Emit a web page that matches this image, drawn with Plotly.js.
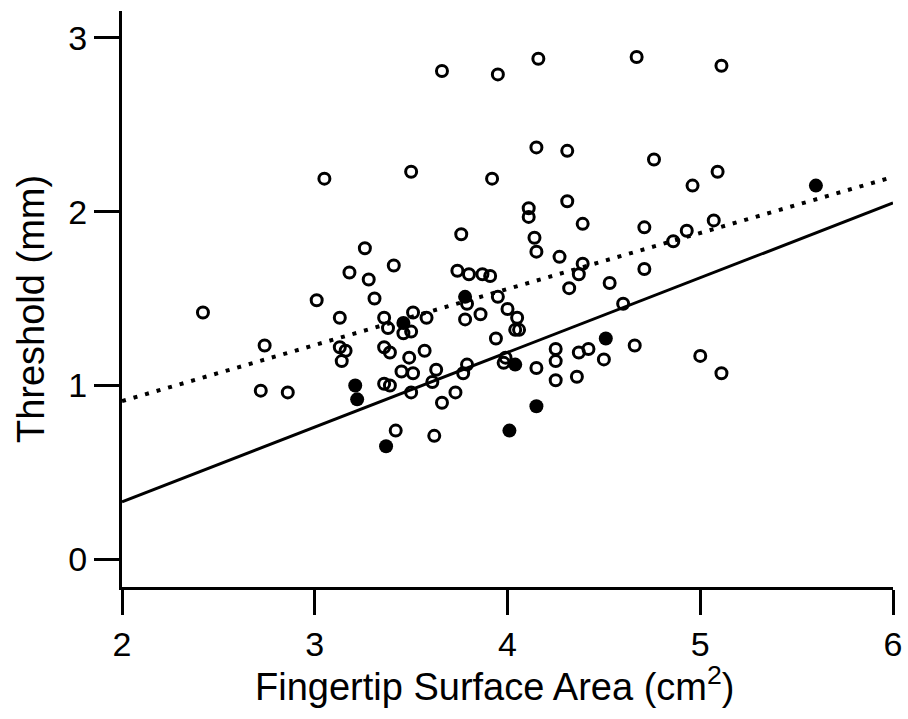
<!DOCTYPE html>
<html>
<head>
<meta charset="utf-8">
<script src="https://cdn.plot.ly/plotly-3.0.1.min.js"></script>
<style>html,body{margin:0;padding:0;background:#fff;}#chart{width:908px;height:719px;}</style>
</head>
<body>
<div id="chart"></div>
<script>
// Open circles: fingertip surface area (cm^2) and threshold (mm)
const openX = [2.42,2.74,2.72,2.86,3.05,3.01,3.26,3.18,3.28,3.31,3.41,3.13,3.13,3.16,3.14,3.36,3.38,3.36,3.39,3.36,3.39,3.42,3.51,3.50,3.46,3.49,3.45,3.51,3.50,3.50,3.58,3.57,3.63,3.61,3.66,3.73,3.62,3.66,3.76,3.74,3.80,3.87,3.91,3.79,3.78,3.86,3.79,3.77,3.92,3.95,3.95,3.94,3.99,3.98,4.00,4.05,4.04,4.06,4.11,4.11,4.14,4.15,4.15,4.16,4.15,4.25,4.25,4.25,4.27,4.31,4.31,4.32,4.36,4.37,4.39,4.39,4.37,4.42,4.50,4.53,4.60,4.67,4.66,4.71,4.71,4.76,4.96,4.86,4.93,5.07,5.09,5.11,5.00,5.11];
const openY = [1.42,1.23,0.97,0.96,2.19,1.49,1.79,1.65,1.61,1.50,1.69,1.39,1.22,1.20,1.14,1.39,1.33,1.22,1.19,1.01,1.00,0.74,1.42,1.31,1.30,1.16,1.08,1.07,0.96,2.23,1.39,1.20,1.09,1.02,0.90,0.96,0.71,2.81,1.87,1.66,1.64,1.64,1.63,1.47,1.38,1.41,1.12,1.07,2.19,2.79,1.51,1.27,1.16,1.13,1.44,1.39,1.32,1.32,2.02,1.97,1.85,1.77,2.37,2.88,1.10,1.21,1.14,1.03,1.74,2.35,2.06,1.56,1.05,1.64,1.70,1.93,1.19,1.21,1.15,1.59,1.47,2.89,1.23,1.67,1.91,2.30,2.15,1.83,1.89,1.95,2.23,2.84,1.17,1.07];
// Filled circles
const filledX = [3.46,3.21,3.22,3.37,3.78,4.04,4.15,4.01,4.51,5.60];
const filledY = [1.36,1.00,0.92,0.65,1.51,1.12,0.88,0.74,1.27,2.15];
// Regression lines
const fitX = [2, 6];
const solidFitY = [0.33, 2.05];
const dottedFitY = [0.91, 2.20];
// Ticks and titles
const xTicks = [2,3,4,5,6];
const yTicks = [0,1,2,3];
const xTitle = 'Fingertip Surface Area (cm<sup>2</sup>)';
const yTitle = 'Threshold (mm)';

const traces = [
  {x: fitX, y: dottedFitY, mode: 'lines', line: {color: '#000', width: 4, dash: '4px,8px'}, hoverinfo: 'skip'},
  {x: fitX, y: solidFitY, mode: 'lines', line: {color: '#000', width: 3}, hoverinfo: 'skip'},
  {x: openX, y: openY, mode: 'markers', marker: {symbol: 'circle-open', size: 11, color: '#000', line: {width: 3, color: '#000'}}},
  {x: filledX, y: filledY, mode: 'markers', marker: {symbol: 'circle', size: 14, color: '#000'}}
];

const fontFam = '"Liberation Sans", Arial, Helvetica, sans-serif';
const axisCommon = {
  showgrid: false, zeroline: false, showline: true, linecolor: '#000', linewidth: 3,
  ticks: 'outside', ticklen: 25, tickwidth: 3, tickcolor: '#000',
  tickfont: {size: 34, family: fontFam, color: '#000'},
  automargin: false
};
const layout = {
  width: 908, height: 719,
  margin: {l: 122, r: 15, t: 11, b: 132},
  paper_bgcolor: '#fff', plot_bgcolor: '#fff',
  showlegend: false,
  font: {family: fontFam, color: '#000'},
  xaxis: Object.assign({range: [2, 6], tickvals: xTicks, ticktext: xTicks.map(String)}, axisCommon),
  yaxis: Object.assign({range: [-0.16, 3.155], tickvals: yTicks, ticktext: yTicks.map(String)}, axisCommon),
  annotations: [
    {text: xTitle, xref: 'paper', yref: 'paper', x: 0.4825, y: -0.1684, xanchor: 'center', yanchor: 'middle',
     showarrow: false, font: {size: 38, family: fontFam, color: '#000'}},
    {text: yTitle, xref: 'paper', yref: 'paper', x: -0.118, y: 0.4826, xanchor: 'center', yanchor: 'middle',
     textangle: -90, showarrow: false, font: {size: 38, family: fontFam, color: '#000'}}
  ]
};
Plotly.newPlot('chart', traces, layout, {displayModeBar: false, staticPlot: true});
</script>
</body>
</html>
